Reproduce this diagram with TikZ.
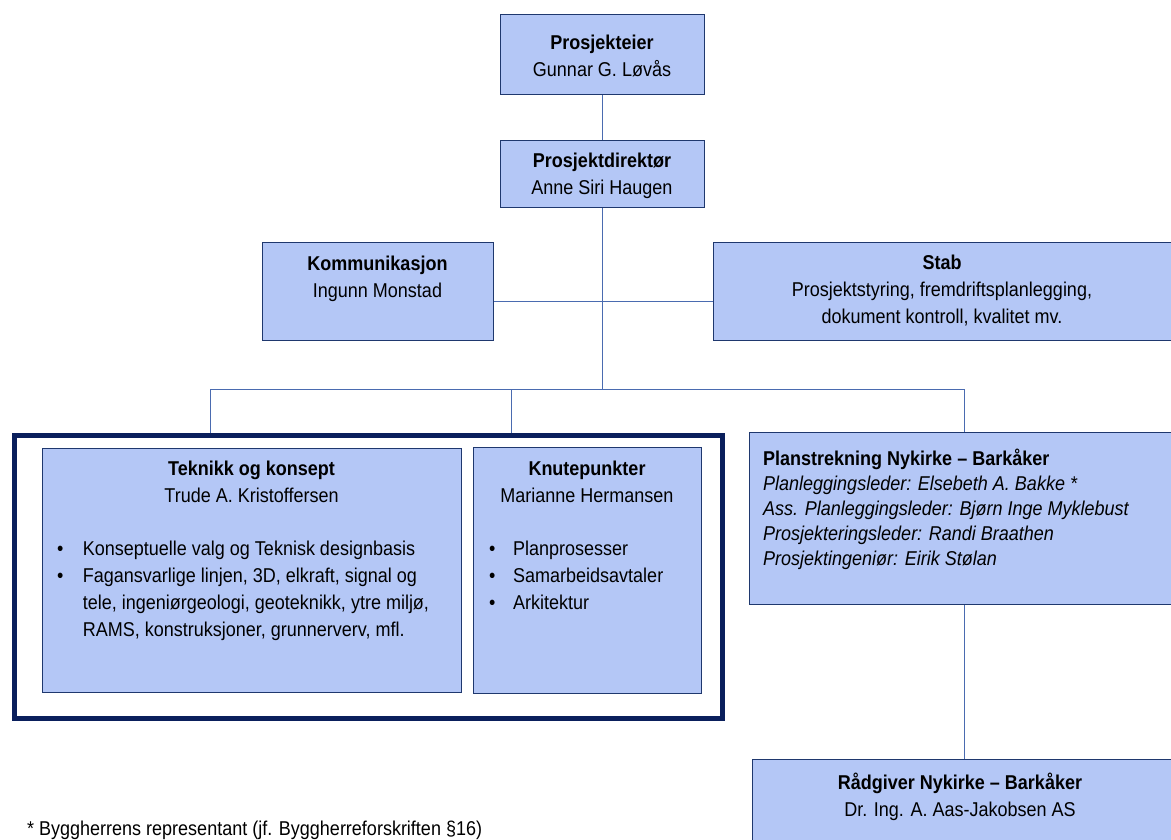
\documentclass[tikz,border=0pt]{standalone}
\usepackage{fontspec}
\setmainfont{Liberation Sans}[FakeStretch=0.9]
\definecolor{boxfill}{RGB}{180,199,246}
\definecolor{boxline}{RGB}{31,56,110}
\definecolor{connline}{RGB}{74,107,176}
\definecolor{framecol}{RGB}{10,31,92}
\tikzset{
  x=1pt, y=-1pt,
  box/.style={draw=boxline, fill=boxfill, line width=1.4pt, inner sep=0pt, anchor=north west, rectangle},
  frame/.style={draw=framecol, line width=5pt, inner sep=0pt, anchor=north west, rectangle},
  conn/.style={draw=connline, line width=1pt},
  txt/.style={inner sep=0pt, anchor=north, align=center, font=\fontsize{20}{27}\selectfont, text=black},
  ltxt/.style={inner sep=0pt, anchor=north west, align=left, font=\fontsize{20}{27}\selectfont, text=black},
}
\newcommand{\bul}[1]{\makebox[#1][l]{•}}
\begin{document}
\begin{tikzpicture}
\useasboundingbox (0,0) rectangle (1171,839);
\clip (0,0) rectangle (1171,839);

% boxes
\node[box, minimum width=204pt, minimum height=80pt] (pe) at (500,14) {};
\node[box, minimum width=204pt, minimum height=67pt] (pd) at (500,140) {};
\node[box, minimum width=231pt, minimum height=98pt] (komm) at (262,242) {};
\node[box, minimum width=460pt, minimum height=98pt] (stab) at (713,242) {};
\node[frame, minimum width=708pt, minimum height=283pt] (frame) at (12,433) {};
\node[box, minimum width=419pt, minimum height=244pt] (tek) at (42,448) {};
\node[box, minimum width=228pt, minimum height=246pt] (knu) at (473,447) {};
\node[box, minimum width=424pt, minimum height=172pt] (plan) at (749,432) {};
\node[box, minimum width=421pt, minimum height=100pt] (raad) at (752,759) {};

% connectors
\coordinate (bl) at (210,389);
\coordinate (bm) at (511,389);
\coordinate (br) at (964,389);
\coordinate (mid) at (602,301);
\draw[conn] (pe.south) -- (pd.north);
\draw[conn] (pd.south) -- (pd.south |- bl);
\draw[conn] (komm.east |- mid) -- (stab.west |- mid);
\draw[conn] (bl |- frame.north) -- (bl) -- (br) -- (br |- plan.north);
\draw[conn] (bm) -- (bm |- frame.north);
\draw[conn] (br |- plan.south) -- (br |- raad.north);

% texts
\node[txt] (peT) at (602,34.5) {\textbf{Prosjekteier}\\Gunnar G. Løvås};
\node[txt] (pdT) at (602,152.5) {\textbf{Prosjektdirektør}\\Anne Siri Haugen};
\node[txt] (kommT) at (377.5,255.5) {\textbf{Kommunikasjon}\\Ingunn Monstad};
\node[txt] (stabT) at (942,254.5) {\textbf{Stab}\\Prosjektstyring, fremdriftsplanlegging,\\dokument kontroll, kvalitet mv.};
\node[txt] (tekT) at (251.5,460.5) {\textbf{Teknikk og konsept}\\Trude A. Kristoffersen};
\node[ltxt] (tekL) at (57,540.5) {\bul{25.7pt}Konseptuelle valg og Teknisk designbasis\\
\bul{25.7pt}Fagansvarlige linjen, 3D, elkraft, signal og\\
\hspace*{25.7pt}tele, ingeniørgeologi, geoteknikk, ytre miljø,\\
\hspace*{25.7pt}RAMS, konstruksjoner, grunnerverv, mfl.};
\node[txt] (knuT) at (587,460.5) {\textbf{Knutepunkter}\\Marianne Hermansen};
\node[ltxt] (knuL) at (489,540.5) {\bul{24pt}Planprosesser\\\bul{24pt}Samarbeidsavtaler\\\bul{24pt}Arkitektur};
\node[ltxt, font=\fontsize{20}{25.2}\selectfont] (planT) at (763,448.5) {\textbf{Planstrekning Nykirke – Barkåker}\\
\textit{Planleggingsleder: Elsebeth A. Bakke *}\\
\textit{Ass. Planleggingsleder: Bjørn Inge Myklebust}\\
\textit{Prosjekteringsleder: Randi Braathen}\\
\textit{Prosjektingeniør: Eirik Stølan}};
\node[txt] (raadT) at (960,772.5) {\textbf{Rådgiver Nykirke – Barkåker}\\Dr. Ing. A. Aas-Jakobsen AS};
\node[ltxt] (foot) at (27,820.5) {* Byggherrens representant (jf. Byggherreforskriften §16)};
\end{tikzpicture}
\end{document}
